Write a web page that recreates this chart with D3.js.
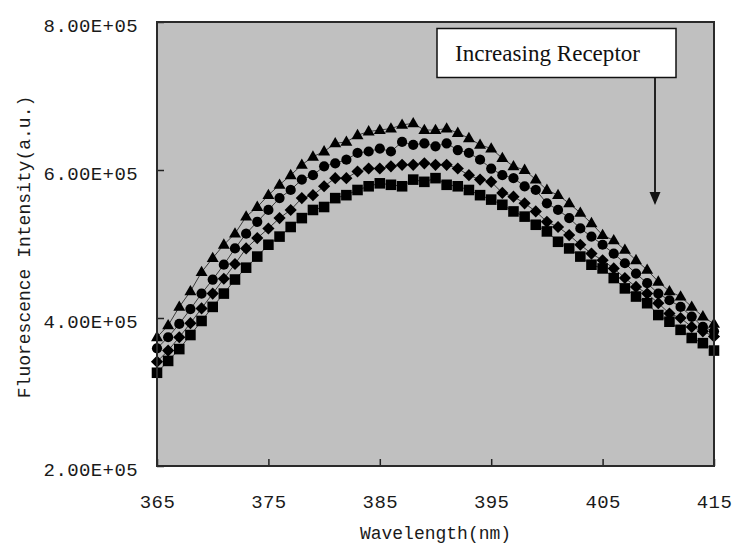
<!DOCTYPE html>
<html>
<head>
<meta charset="utf-8">
<script src="https://cdn.jsdelivr.net/npm/d3@7"></script>
<style>
  html, body { margin: 0; padding: 0; background: #ffffff; }
  svg { display: block; }
</style>
</head>
<body>
<svg id="chart" width="736" height="544"></svg>
<script>
// ---- data ----
const wavelengths = [365,366,367,368,369,370,371,372,373,374,375,376,377,378,379,380,381,382,383,384,385,386,387,388,389,390,391,392,393,394,395,396,397,398,399,400,401,402,403,404,405,406,407,408,409,410,411,412,413,414,415];

// values in thousands (x 1e3)
const seriesTriangle = [374,390,415,436,462,481,499,514,537,550,566,580,593,607,618,625,636,638,647,652,654,656,661,663,654,654,656,650,643,634,629,616,605,600,587,573,566,555,542,528,512,505,492,478,465,449,436,429,415,402,392];
const seriesCircle   = [359,374,392,412,433,452,472,494,514,530,546,562,573,587,593,605,609,614,623,625,629,625,638,634,636,632,636,627,623,614,602,593,589,578,573,555,546,535,521,510,499,487,474,460,447,433,424,415,402,388,382];
const seriesDiamond  = [341,356,374,393,413,433,453,473,494,508,521,535,546,562,566,578,589,589,598,602,602,605,607,607,609,607,607,602,593,587,584,569,564,555,544,530,523,512,499,487,478,467,454,442,433,420,406,400,388,382,375];
const seriesSquare   = [326,342,358,377,396,415,433,452,468,483,499,510,523,535,546,550,562,566,573,578,582,580,578,587,584,589,580,578,573,566,560,553,544,537,526,517,503,494,483,472,467,454,440,429,420,404,395,384,373,366,356];

const xTicks = [365,375,385,395,405,415];
const yTicks = [200000,400000,600000,800000];
const yTickLabels = ["2.00E+05","4.00E+05","6.00E+05","8.00E+05"];
const xTitle = "Wavelength(nm)";
const yTitle = "Fluorescence Intensity(a.u.)";
const annotationText = "Increasing Receptor";

(function () {
// ---- layout ----
const svg = d3.select("#chart");
const pLeft = 157, pRight = 714, pTop = 22, pBottom = 466;

const x = d3.scaleLinear().domain([365, 415]).range([pLeft, pRight]);
const y = d3.scaleLinear().domain([200000, 800000]).range([pBottom, pTop]);

// plot background
svg.append("rect")
  .attr("x", pLeft).attr("y", pTop)
  .attr("width", pRight - pLeft).attr("height", pBottom - pTop)
  .attr("fill", "#c0c0c0");

const monoFont = "'Liberation Mono', 'DejaVu Sans Mono', monospace";

// axes
const yAxis = d3.axisLeft(y).tickValues(yTicks)
  .tickFormat((d, i) => yTickLabels[i])
  .tickSize(-7).tickPadding(19);
const gy = svg.append("g").attr("transform", `translate(${pLeft},0)`).call(yAxis);
gy.select(".domain").remove();
gy.selectAll("line").attr("stroke", "#222").attr("stroke-width", 1.5);
gy.selectAll("text")
  .attr("font-family", monoFont).attr("font-size", 19)
  .attr("letter-spacing", 0.4)
  .attr("fill", "#1a1a1a").attr("dy", "0.5em");

const xAxis = d3.axisBottom(x).tickValues(xTicks)
  .tickFormat(d3.format("d"))
  .tickSize(-7).tickPadding(29);
const gx = svg.append("g").attr("transform", `translate(0,${pBottom})`).call(xAxis);
gx.select(".domain").remove();
gx.selectAll("line").attr("stroke", "#222").attr("stroke-width", 1.5);
gx.selectAll("text")
  .attr("font-family", monoFont).attr("font-size", 19)
  .attr("letter-spacing", 0.4)
  .attr("fill", "#1a1a1a");

// series
const series = [
  { values: seriesSquare,   shape: "square"   },
  { values: seriesDiamond,  shape: "diamond"  },
  { values: seriesCircle,   shape: "circle"   },
  { values: seriesTriangle, shape: "triangle" }
];

const line = d3.line()
  .x((d, i) => x(wavelengths[i]))
  .y(d => y(d * 1000));

const symbols = {
  square:   d3.symbol().type(d3.symbolSquare).size(112),
  diamond:  d3.symbol().type(d3.symbolSquare).size(74),
  circle:   d3.symbol().type(d3.symbolCircle).size(82),
  triangle: d3.symbol().type(d3.symbolTriangle).size(62)
};

series.forEach(s => {
  svg.append("path")
    .datum(s.values)
    .attr("d", line)
    .attr("fill", "none")
    .attr("stroke", "#3a3a3a")
    .attr("stroke-width", 1);
});

series.forEach(s => {
  svg.append("g").selectAll("path")
    .data(s.values)
    .join("path")
    .attr("d", symbols[s.shape])
    .attr("transform", (d, i) => {
      const tx = x(wavelengths[i]), ty = y(d * 1000);
      if (s.shape === "diamond") return `translate(${tx},${ty}) rotate(45)`;
      if (s.shape === "triangle") return `translate(${tx},${ty + 0.5})`;
      return `translate(${tx},${ty})`;
    })
    .attr("fill", "#000");
});

// frame
svg.append("rect")
  .attr("x", pLeft).attr("y", pTop)
  .attr("width", pRight - pLeft).attr("height", pBottom - pTop)
  .attr("fill", "none")
  .attr("stroke", "#2a2a2a").attr("stroke-width", 2);

// axis titles
svg.append("text")
  .attr("transform", `translate(30,247) rotate(-90)`)
  .attr("text-anchor", "middle")
  .attr("font-family", monoFont).attr("font-size", 18)
  .attr("fill", "#1a1a1a")
  .text(yTitle);

svg.append("text")
  .attr("x", (pLeft + pRight) / 2).attr("y", 539)
  .attr("text-anchor", "middle")
  .attr("font-family", monoFont).attr("font-size", 18)
  .attr("fill", "#1a1a1a")
  .text(xTitle);

// annotation box + arrow
svg.append("rect")
  .attr("x", 437).attr("y", 28.5)
  .attr("width", 239).attr("height", 49)
  .attr("fill", "#ffffff")
  .attr("stroke", "#111").attr("stroke-width", 1.5);

svg.append("text")
  .attr("x", 455).attr("y", 61)
  .attr("font-family", "'Liberation Serif', 'DejaVu Serif', serif")
  .attr("font-size", 23)
  .attr("textLength", 185).attr("lengthAdjust", "spacingAndGlyphs")
  .attr("fill", "#111")
  .text(annotationText);

svg.append("line")
  .attr("x1", 655).attr("y1", 78)
  .attr("x2", 655).attr("y2", 195)
  .attr("stroke", "#222").attr("stroke-width", 2);

svg.append("path")
  .attr("d", "M649.5,192 L660.5,192 L655,205 Z")
  .attr("fill", "#111");
})();
</script>
</body>
</html>
